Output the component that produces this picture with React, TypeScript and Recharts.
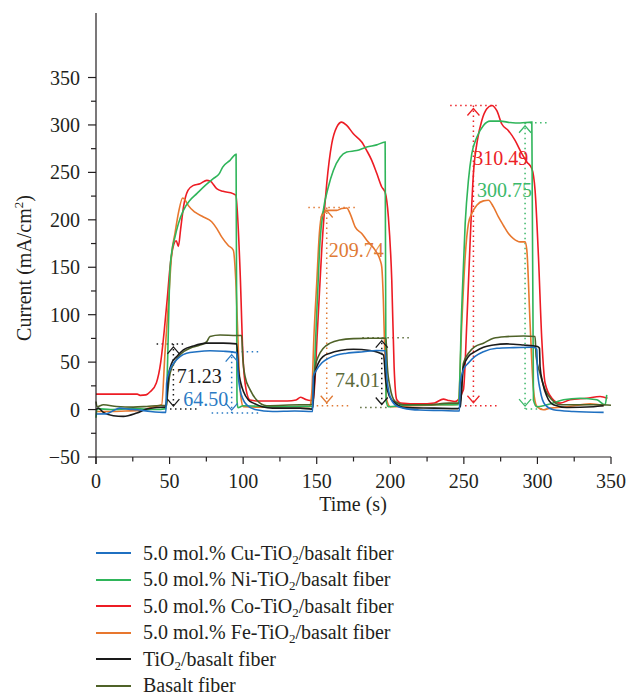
import React from 'react';
import { LineChart, Line, XAxis, YAxis, ReferenceLine, ReferenceDot, Legend } from 'recharts';

const FONT = '"Liberation Serif", "Times New Roman", serif';
const INK = '#231f20';
const TXT = { fontFamily: FONT, fontSize: 20 };

type Pt = [number, number];

// time (s), current (mA/cm2)
const cuPoints: Pt[] = [
  [0, -4.7], [7, -4.5], [12, -1], [16, 1.5], [22, 0.5], [28, -0.2], [37, -2], [47.5, -3], [48, 28], [50.3, 42],
  [53.7, 50.6], [57.1, 55.9], [61.6, 59.4], [68.5, 61], [77.5, 62], [86.5, 61.5], [95.6, 60], [96.7, 35], [97.9, 21],
  [100.2, 10], [102.4, 5], [108, 0], [120, -2], [135, -1.5], [147.2, -2], [147.7, 35], [150, 42], [153.4, 49],
  [157.9, 54], [163.6, 57.6], [170.4, 59.4], [181.7, 61], [190.8, 62.2], [196.5, 62], [197.6, 35], [199.8, 14],
  [203.3, 5], [208.9, 1.5], [220, -0.5], [235, -1], [247, -1.5], [247.5, 28], [249.7, 42], [253.1, 49], [257.6, 56],
  [263.3, 61], [272.4, 64.6], [283.7, 65.3], [297.3, 65.7], [299.6, 63.6], [300, 42], [301.8, 21], [305.2, 5],
  [310.9, -0.2], [324.5, -2], [345, -3],
];

const niPoints: Pt[] = [
  [0, -8.6], [0.8, 1], [10, 0], [25, 1], [40, 0], [47.6, 1], [48.5, 42], [50.3, 147], [51.4, 165], [53.7, 182],
  [56, 196], [59.4, 210], [63.9, 220.6], [68.5, 227.6], [74.1, 236], [79.7, 243.4], [83.8, 248.7], [86.1, 255.6],
  [91.1, 262.7], [95.2, 269], [95.8, 10], [96.5, 2], [100, 4], [120, 3], [140, 3.5], [146.6, 3.3], [150.4, 115],
  [152.3, 178.5], [154.5, 210], [157.9, 234.6], [161.3, 252], [165.9, 266], [170.4, 271.4], [177.2, 273],
  [184, 276.7], [190.8, 279], [196.5, 282], [197.1, 10], [198.7, 3], [210, 4.5], [230, 5], [246.3, 5], [248.6, 108],
  [250.9, 196], [253.1, 241.6], [255.4, 269.7], [258.8, 287], [263.3, 299.5], [267.8, 304], [274.6, 304],
  [281.4, 302.6], [288.2, 302], [296.2, 303], [297.3, 10], [299.6, 3], [306.4, 5], [317.7, 10.3], [329, 12],
  [340.4, 10.3], [346, 5], [347.1, 15.5],
];

const coPoints: Pt[] = [
  [0, 16.3], [28, 16.3], [30, 15], [34, 15.5], [37, 19], [41, 28], [44, 50], [46.5, 85], [48.5, 118], [50.3, 150],
  [52.5, 172], [54.5, 178], [56, 172], [57.5, 190], [59.5, 214], [62.5, 231], [65.9, 236], [70.7, 238], [75.3, 241.6],
  [77.5, 241], [82, 233], [86.3, 230], [93.1, 227.6], [95, 226], [97.9, 147], [99.9, 55], [102, 21], [104.7, 10],
  [110, 9], [130, 9], [136, 10], [139, 13], [142, 11], [145.5, 9.5], [147.7, 10], [150.4, 80.7], [153.4, 168],
  [156.8, 238], [160.2, 280], [163.6, 297.7], [167, 303], [170.4, 299.5], [174.9, 290.7], [180.6, 282], [184, 273],
  [187.4, 262.7], [190.8, 249], [194.2, 234.6], [196.5, 229], [198.7, 203], [201, 136.5], [202.6, 45], [204.4, 10.3],
  [207, 7], [220, 6], [230, 7], [236, 11], [240, 9.5], [244, 8.5], [249.7, 21], [252, 91], [254.3, 178.5],
  [256.5, 248.7], [259.2, 283.7], [262.2, 304.7], [265.6, 317], [269, 320.5], [272.4, 315], [275.8, 301],
  [280.3, 294], [284.8, 283.7], [289.4, 269.7], [292.8, 261], [296.2, 254], [298.4, 231], [300.7, 161], [303, 73],
  [305.2, 28], [309.8, 12], [315.4, 6.8], [322.2, 10.3], [333.6, 12], [342.6, 13.8], [347.6, 12],
];

const fePoints: Pt[] = [
  [0, -2], [10, -2], [20, -1.5], [30, -1], [39, 3], [44.6, 5], [46.9, 60], [49.2, 112], [51.5, 165], [53.7, 186],
  [56, 207], [58.9, 223], [60.5, 221], [62.8, 215], [67.3, 208], [73, 203], [78.6, 198], [82, 191], [85.4, 182],
  [89.9, 173], [93.3, 168], [95.2, 129.5], [96.8, 60], [98.4, 14], [100.2, 3], [110, 2.5], [130, 3], [145, 3],
  [146.6, 17], [148.2, 80.4], [150, 133], [151.8, 185.6], [153.4, 204.8], [155.7, 210], [159.1, 210], [163.6, 210],
  [167, 211.9], [170.4, 212.5], [172.7, 206.6], [176.1, 192.5], [180.6, 185.6], [184, 178.5], [189.7, 168],
  [193.1, 157.5], [194.2, 150.5], [195.3, 115], [196.5, 45], [197.6, 10], [200, 3], [215, 4], [235, 5], [245, 5.5],
  [246.3, 6.8], [248.6, 91], [250.9, 161], [253.1, 196], [255.4, 206.6], [258.8, 215.4], [263.3, 220], [266.7, 220.6],
  [270.1, 213.6], [273.5, 203], [276.9, 194], [280.3, 185.6], [283.7, 180.3], [288.2, 176.8], [291.6, 176.8],
  [292.8, 168], [295, 91], [297.3, 21], [299.6, 3.3], [304, -0.2], [308.6, 1.5], [320, 3], [335.8, 6], [345, 4],
];

const tiPoints: Pt[] = [
  [0, 0], [1.6, 1.5], [5, -3], [11.8, -6.5], [18.6, -7.2], [27.7, -3.7], [34.5, 0.5], [41.3, 2.2], [46.9, 2.6],
  [48, 10], [49.2, 35], [51.5, 49], [54.9, 56], [59.4, 63], [66.1, 67], [75.3, 70], [86.5, 70], [95.6, 69.2],
  [96.8, 42], [98.4, 28], [100.2, 19], [103.6, 10], [107, 6.8], [113, 3], [120, 1.5], [138.7, 1.5], [146.6, 0.5],
  [147.3, 3], [148.9, 38], [151.1, 49], [154.5, 56], [159.1, 59.4], [165.9, 62.2], [174.9, 63.6], [186.3, 62.2],
  [195.3, 57.6], [197.1, 28], [199.4, 14], [203.3, 6.8], [210, 2], [230, 1.5], [246, 1], [247.5, 3], [249.7, 45],
  [253.1, 56], [257.6, 61], [263.3, 65.7], [270.1, 68], [279.2, 69.2], [290.5, 68], [300, 66.4], [301.4, 64.6],
  [301.8, 45], [303.6, 28], [306.4, 14], [310.9, 5], [320, 2.2], [338.1, 3], [345, 4],
];

const basaltPoints: Pt[] = [
  [0, 8.5], [0.7, 3], [5, 5], [14, 3.3], [25.4, 2.6], [34.5, 3.3], [43.5, 4.3], [48, 4.3], [48.5, 14], [50.3, 38],
  [53.7, 50.6], [58.3, 59.4], [63.9, 64.6], [70.7, 68], [75.3, 71.6], [77.5, 77], [84.3, 78.6], [95.6, 78], [99, 78],
  [99.7, 55.9], [101.3, 35], [104.7, 21], [109.2, 10], [116, 4], [138.7, 5], [146.6, 5], [148.9, 45], [151.1, 56],
  [154.5, 64.6], [159.1, 70], [165.9, 73.4], [174.9, 74.8], [186.3, 75.2], [197.1, 75.2], [198, 45], [199.8, 24],
  [203.3, 8.5], [209, 5], [225, 5], [240, 6.8], [247.5, 6.8], [249.7, 49], [253.1, 59.4], [257.6, 66.4], [263.3, 70],
  [270.1, 75.2], [279.2, 76.9], [290.5, 77.6], [298.4, 77], [299.1, 56], [301.8, 38], [305.2, 21], [309.8, 10.3],
  [315.4, 5], [331.3, 5], [342.6, 5], [350, 4.5],
];

const xTicks = [0, 25, 50, 75, 100, 125, 150, 175, 200, 225, 250, 275, 300, 325, 350];
const yTicks = [-50, -25, 0, 25, 50, 75, 100, 125, 150, 175, 200, 225, 250, 275, 300, 325, 350];

const series = [
  { key: 'co', label: '5.0 mol.% Co-TiO2/basalt fiber', color: '#ed1c24', points: coPoints, order: 2 },
  { key: 'fe', label: '5.0 mol.% Fe-TiO2/basalt fiber', color: '#e8772e', points: fePoints, order: 3 },
  { key: 'ni', label: '5.0 mol.% Ni-TiO2/basalt fiber', color: '#2fb55a', points: niPoints, order: 1 },
  { key: 'basalt', label: 'Basalt fiber', color: '#4f6228', points: basaltPoints, order: 5 },
  { key: 'ti', label: 'TiO2/basalt fiber', color: '#1a1a1a', points: tiPoints, order: 4 },
  { key: 'cu', label: '5.0 mol.% Cu-TiO2/basalt fiber', color: '#1f70c1', points: cuPoints, order: 0 },
];

// peak height markers: vertical span, top/bottom guide lines, value label
const markers = [
  { text: '71.23', color: '#1a1a1a', arrow: '#1a1a1a', x: 52.6, top: 69.2, bottom: 0.5, topSpan: [41.2, 59.3], bottomSpan: [50.3, 69.6], labelAt: [70.1, 35.0] },
  { text: '64.50', color: '#2b7bc4', arrow: '#2b7bc4', x: 92.2, top: 61, bottom: -3.7, topSpan: [92.2, 111.5], bottomSpan: [78.6, 111.5], labelAt: [74.6, 11.4] },
  { text: '209.74', color: '#e07a35', arrow: '#e07a35', x: 156.8, top: 213, bottom: 4, topSpan: [144.3, 176], bottomSpan: [150, 172.7], labelAt: [176.8, 168.2] },
  { text: '74.01', color: '#5b6b3a', arrow: '#1a1a1a', x: 194.2, top: 75.8, bottom: 2.2, topSpan: [181, 213.5], bottomSpan: [179.5, 200], labelAt: [177.7, 31.2] },
  { text: '310.49', color: '#ec2227', arrow: '#ec2227', x: 256.5, top: 320.5, bottom: 4, topSpan: [240.7, 273.5], bottomSpan: [250.8, 273.5], labelAt: [275.1, 264.9] },
  { text: '300.75', color: '#3cb96a', arrow: '#3cb96a', x: 291.6, top: 302.3, bottom: 0.5, topSpan: [291.6, 306.4], bottomSpan: [292, 306.4], labelAt: [277.6, 231.4] },
];

const toRows = (pts: Pt[]) => pts.map(([t, v]) => ({ t, v }));

const XTick = (props: any) => {
  const { x, y, payload } = props;
  const major = payload.value % 50 === 0;
  return (
    <g>
      <line x1={x} x2={x} y1={y} y2={y + (major ? 7 : 4.5)} stroke={INK} strokeWidth={1.2} />
      {major && (
        <text x={x} y={y + 31} textAnchor="middle" style={TXT} fill={INK}>
          {payload.value}
        </text>
      )}
    </g>
  );
};

const YTick = (props: any) => {
  const { x, y, payload } = props;
  const major = payload.value % 50 === 0;
  const label = payload.value < 0 ? `\u2212${Math.abs(payload.value)}` : `${payload.value}`;
  return (
    <g>
      <line x1={x - (major ? 8 : 5)} x2={x} y1={y} y2={y} stroke={INK} strokeWidth={1.2} />
      {payload.value === -50 && <line x1={x} x2={x} y1={y} y2={y + 7} stroke={INK} strokeWidth={1.2} />}
      {major && (
        <text x={x - 16} y={y + 7} textAnchor="end" style={TXT} fill={INK}>
          {label}
        </text>
      )}
    </g>
  );
};

const YTitle = () => (
  <text x={31} y={268} transform="rotate(-90, 31, 268)" textAnchor="middle" style={TXT} fill={INK}>
    Current (mA/cm<tspan dy={-8} style={{ fontSize: 13 }}>2</tspan><tspan dy={8}>)</tspan>
  </text>
);

const XTitle = () => (
  <text x={353} y={511} textAnchor="middle" style={TXT} fill={INK}>
    Time (s)
  </text>
);

const withSub = (label: string) => {
  const parts = label.split('TiO2');
  return parts.map((p, i) => (
    <React.Fragment key={i}>
      {p}
      {i < parts.length - 1 && (
        <>
          TiO<sub style={{ fontSize: 13, verticalAlign: -4, lineHeight: 0 }}>2</sub>
        </>
      )}
    </React.Fragment>
  ));
};

const renderLegend = () => {
  const rows = [...series].sort((a, b) => a.order - b.order);
  return (
    <div style={{ fontFamily: FONT, fontSize: 20, color: INK }}>
      {rows.map((s) => (
        <div key={s.key} style={{ display: 'flex', alignItems: 'center', height: 26.5, whiteSpace: 'nowrap' }}>
          <span style={{ display: 'inline-block', width: 35, borderTop: `2px solid ${s.color}`, marginRight: 12 }} />
          <span>{withSub(s.label)}</span>
        </div>
      ))}
    </div>
  );
};

const chevron = (color: string, up: boolean) => (p: any) => {
  const { cx, cy } = p;
  const tip = up ? cy + 3 : cy - 3;
  const base = up ? tip + 7 : tip - 7;
  return (
    <path d={`M${cx - 6},${base} L${cx},${tip} L${cx + 6},${base}`} fill="none" stroke={color} strokeWidth={1.3} />
  );
};

const textShape = (text: string, color: string) => (p: any) => (
  <text x={p.cx} y={p.cy + 7} textAnchor="middle" style={TXT} fill={color}>
    {text}
  </text>
);

const dots = { strokeDasharray: '1.5 3.5', strokeWidth: 1.5 };

export default function App() {
  return (
    <div style={{ position: 'absolute', left: 0, top: 0, width: 627, height: 696, background: '#fff' }}>
      <LineChart width={627} height={696} margin={{ top: 13, right: 16, bottom: 199, left: 0 }}>
        <XAxis
          type="number"
          dataKey="t"
          domain={[0, 350]}
          ticks={xTicks}
          interval={0}
          tick={<XTick />}
          tickLine={false}
          tickSize={0}
          tickMargin={0}
          height={40}
          axisLine={{ stroke: INK, strokeWidth: 1.2 }}
          label={<XTitle />}
          allowDuplicatedCategory={false}
        />
        <YAxis
          type="number"
          domain={[-50, 418]}
          ticks={yTicks}
          interval={0}
          tick={<YTick />}
          tickLine={false}
          tickSize={0}
          tickMargin={0}
          width={96}
          axisLine={{ stroke: INK, strokeWidth: 1.2 }}
          label={<YTitle />}
        />
        {markers.map((m) => (
          <React.Fragment key={m.text}>
            <ReferenceLine segment={[{ x: m.topSpan[0], y: m.top }, { x: m.topSpan[1], y: m.top }]} stroke={m.color} {...dots} />
            <ReferenceLine segment={[{ x: m.bottomSpan[0], y: m.bottom }, { x: m.bottomSpan[1], y: m.bottom }]} stroke={m.color} {...dots} />
            <ReferenceLine segment={[{ x: m.x, y: m.top }, { x: m.x, y: m.bottom }]} stroke={m.arrow} {...dots} />
          </React.Fragment>
        ))}
        {series.map((s) => (
          <Line
            key={s.key}
            data={toRows(s.points)}
            dataKey="v"
            name={s.label}
            type="monotone"
            stroke={s.color}
            strokeWidth={1.6}
            dot={false}
            activeDot={false}
            isAnimationActive={false}
          />
        ))}
        {markers.map((m) => (
          <React.Fragment key={`${m.text}-marks`}>
            <ReferenceDot x={m.x} y={m.top} r={0} shape={chevron(m.arrow, true)} />
            <ReferenceDot x={m.x} y={m.bottom} r={0} shape={chevron(m.arrow, false)} />
            <ReferenceDot x={m.labelAt[0]} y={m.labelAt[1]} r={0} shape={textShape(m.text, m.color)} />
          </React.Fragment>
        ))}
        <Legend
          layout="vertical"
          align="center"
          verticalAlign="middle"
          content={renderLegend}
          wrapperStyle={{ top: 540, left: 96, width: 420, height: 160 }}
        />
      </LineChart>
    </div>
  );
}
